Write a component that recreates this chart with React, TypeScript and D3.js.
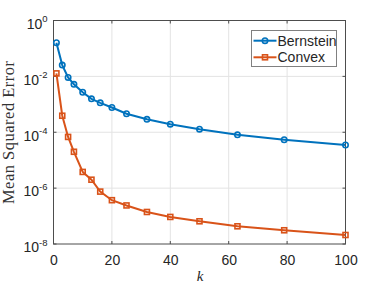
import React from 'react';
import * as d3 from 'd3';

// k values on the x axis
const kValues = [1, 3, 5, 7, 10, 13, 16, 20, 25, 32, 40, 50, 63, 79, 100];
// mean squared error per method
const bernstein = [
  0.16, 0.0254, 0.0092, 0.0052, 0.0027, 0.00157, 0.00113, 0.00077, 0.00046,
  0.00029, 0.000195, 0.000129, 8.1e-5, 5.4e-5, 3.5e-5,
];
const convex = [
  0.0128, 3.9e-4, 6.8e-5, 2.0e-5, 3.8e-6, 2.0e-6, 7.5e-7, 3.7e-7, 2.4e-7, 1.4e-7,
  9.3e-8, 6.5e-8, 4.3e-8, 3.1e-8, 2.1e-8,
];
const seriesNames = ['Bernstein', 'Convex'];
const xTicks = [0, 20, 40, 60, 80, 100];
const yTickExps = [0, -2, -4, -6, -8];

const W = 382;
const H = 287;
const margin = { left: 53.5, right: 36.5, top: 20.5, bottom: 43 };
const BLUE = '#0072BD';
const ORANGE = '#D95319';
const SANS = '"Liberation Sans", Arial, sans-serif';
const SERIF = '"Liberation Serif", "Times New Roman", serif';

export default function App() {
  const x = d3
    .scaleLinear()
    .domain([0, 100])
    .range([margin.left, W - margin.right]);
  const y = d3
    .scaleLog()
    .domain([1e-8, 1])
    .range([H - margin.bottom, margin.top]);

  const x0 = x.range()[0];
  const x1 = x.range()[1];
  const yTop = y.range()[1];
  const yBot = y.range()[0];

  const line = d3
    .line<number>()
    .x((_, i) => x(kValues[i]))
    .y((d) => y(d));

  const tickLen = 3;

  return (
    <svg
      width={W}
      height={H}
      style={{ position: 'fixed', left: 0, top: 0, background: '#fff' }}
    >
      {/* grid */}
      <g stroke="#e3e3e3" strokeWidth={1}>
        {xTicks.slice(1, -1).map((t) => (
          <line key={'gx' + t} x1={x(t)} x2={x(t)} y1={yTop} y2={yBot} />
        ))}
        {yTickExps.slice(1, -1).map((e) => (
          <line
            key={'gy' + e}
            x1={x0}
            x2={x1}
            y1={y(Math.pow(10, e))}
            y2={y(Math.pow(10, e))}
          />
        ))}
      </g>

      {/* axes box and inner ticks */}
      <g stroke="#4d4d4d" strokeWidth={1} fill="none">
        <rect x={x0} y={yTop} width={x1 - x0} height={yBot - yTop} />
        {xTicks.map((t) => (
          <g key={'tx' + t}>
            <line x1={x(t)} x2={x(t)} y1={yBot} y2={yBot - tickLen} />
            <line x1={x(t)} x2={x(t)} y1={yTop} y2={yTop + tickLen} />
          </g>
        ))}
        {yTickExps.map((e) => (
          <g key={'ty' + e}>
            <line
              x1={x0}
              x2={x0 + tickLen}
              y1={y(Math.pow(10, e))}
              y2={y(Math.pow(10, e))}
            />
            <line
              x1={x1}
              x2={x1 - tickLen}
              y1={y(Math.pow(10, e))}
              y2={y(Math.pow(10, e))}
            />
          </g>
        ))}
      </g>

      {/* tick labels */}
      <g fontFamily={SANS} fill="#262626">
        {xTicks.map((t) => (
          <text
            key={'lx' + t}
            x={x(t) + 0.5}
            y={yBot + 20.5}
            fontSize={14}
            textAnchor="middle"
          >
            {t}
          </text>
        ))}
        {yTickExps.map((e) => (
          <text
            key={'ly' + e}
            x={x0 - 6}
            y={y(Math.pow(10, e)) + 8.3}
            fontSize={14}
            textAnchor="end"
          >
            10
            <tspan fontSize={9.5} dy={-6.7}>
              {e}
            </tspan>
          </text>
        ))}
      </g>

      {/* axis labels */}
      <text
        x={(x0 + x1) / 2 + 0.5}
        y={281}
        fontFamily={SERIF}
        fontStyle="italic"
        fontSize={15}
        textAnchor="middle"
        fill="#262626"
      >
        k
      </text>
      <text
        transform={`translate(14,${(yTop + yBot) / 2}) rotate(-90)`}
        fontFamily={SERIF}
        fontSize={16.5}
        letterSpacing={0.5}
        textAnchor="middle"
        fill="#333"
      >
        Mean Squared Error
      </text>

      {/* series */}
      <path d={line(bernstein) || ''} fill="none" stroke={BLUE} strokeWidth={2} />
      {bernstein.map((v, i) => (
        <circle
          key={'b' + i}
          cx={x(kValues[i])}
          cy={y(v)}
          r={2.7}
          fill="none"
          stroke={BLUE}
          strokeWidth={1.6}
        />
      ))}
      <path d={line(convex) || ''} fill="none" stroke={ORANGE} strokeWidth={2} />
      {convex.map((v, i) => (
        <rect
          key={'c' + i}
          x={x(kValues[i]) - 2.5}
          y={y(v) - 2.5}
          width={5}
          height={5}
          fill="none"
          stroke={ORANGE}
          strokeWidth={1.6}
        />
      ))}

      {/* legend */}
      <g>
        <rect
          x={251.5}
          y={30.5}
          width={85}
          height={36}
          fill="#fff"
          stroke="#808080"
          strokeWidth={1}
        />
        {seriesNames.map((name, i) => {
          const cy = 40.7 + i * 16.6;
          const color = i === 0 ? BLUE : ORANGE;
          return (
            <g key={name}>
              <line x1={253.5} x2={276.5} y1={cy} y2={cy} stroke={color} strokeWidth={2} />
              {i === 0 ? (
                <circle cx={265} cy={cy} r={2.7} fill="none" stroke={color} strokeWidth={1.6} />
              ) : (
                <rect
                  x={262.5}
                  y={cy - 2.5}
                  width={5}
                  height={5}
                  fill="none"
                  stroke={color}
                  strokeWidth={1.6}
                />
              )}
              <text
                x={277.5}
                y={cy + 5}
                fontFamily={SANS}
                fontSize={14}
                fill="#262626"
              >
                {name}
              </text>
            </g>
          );
        })}
      </g>
    </svg>
  );
}
